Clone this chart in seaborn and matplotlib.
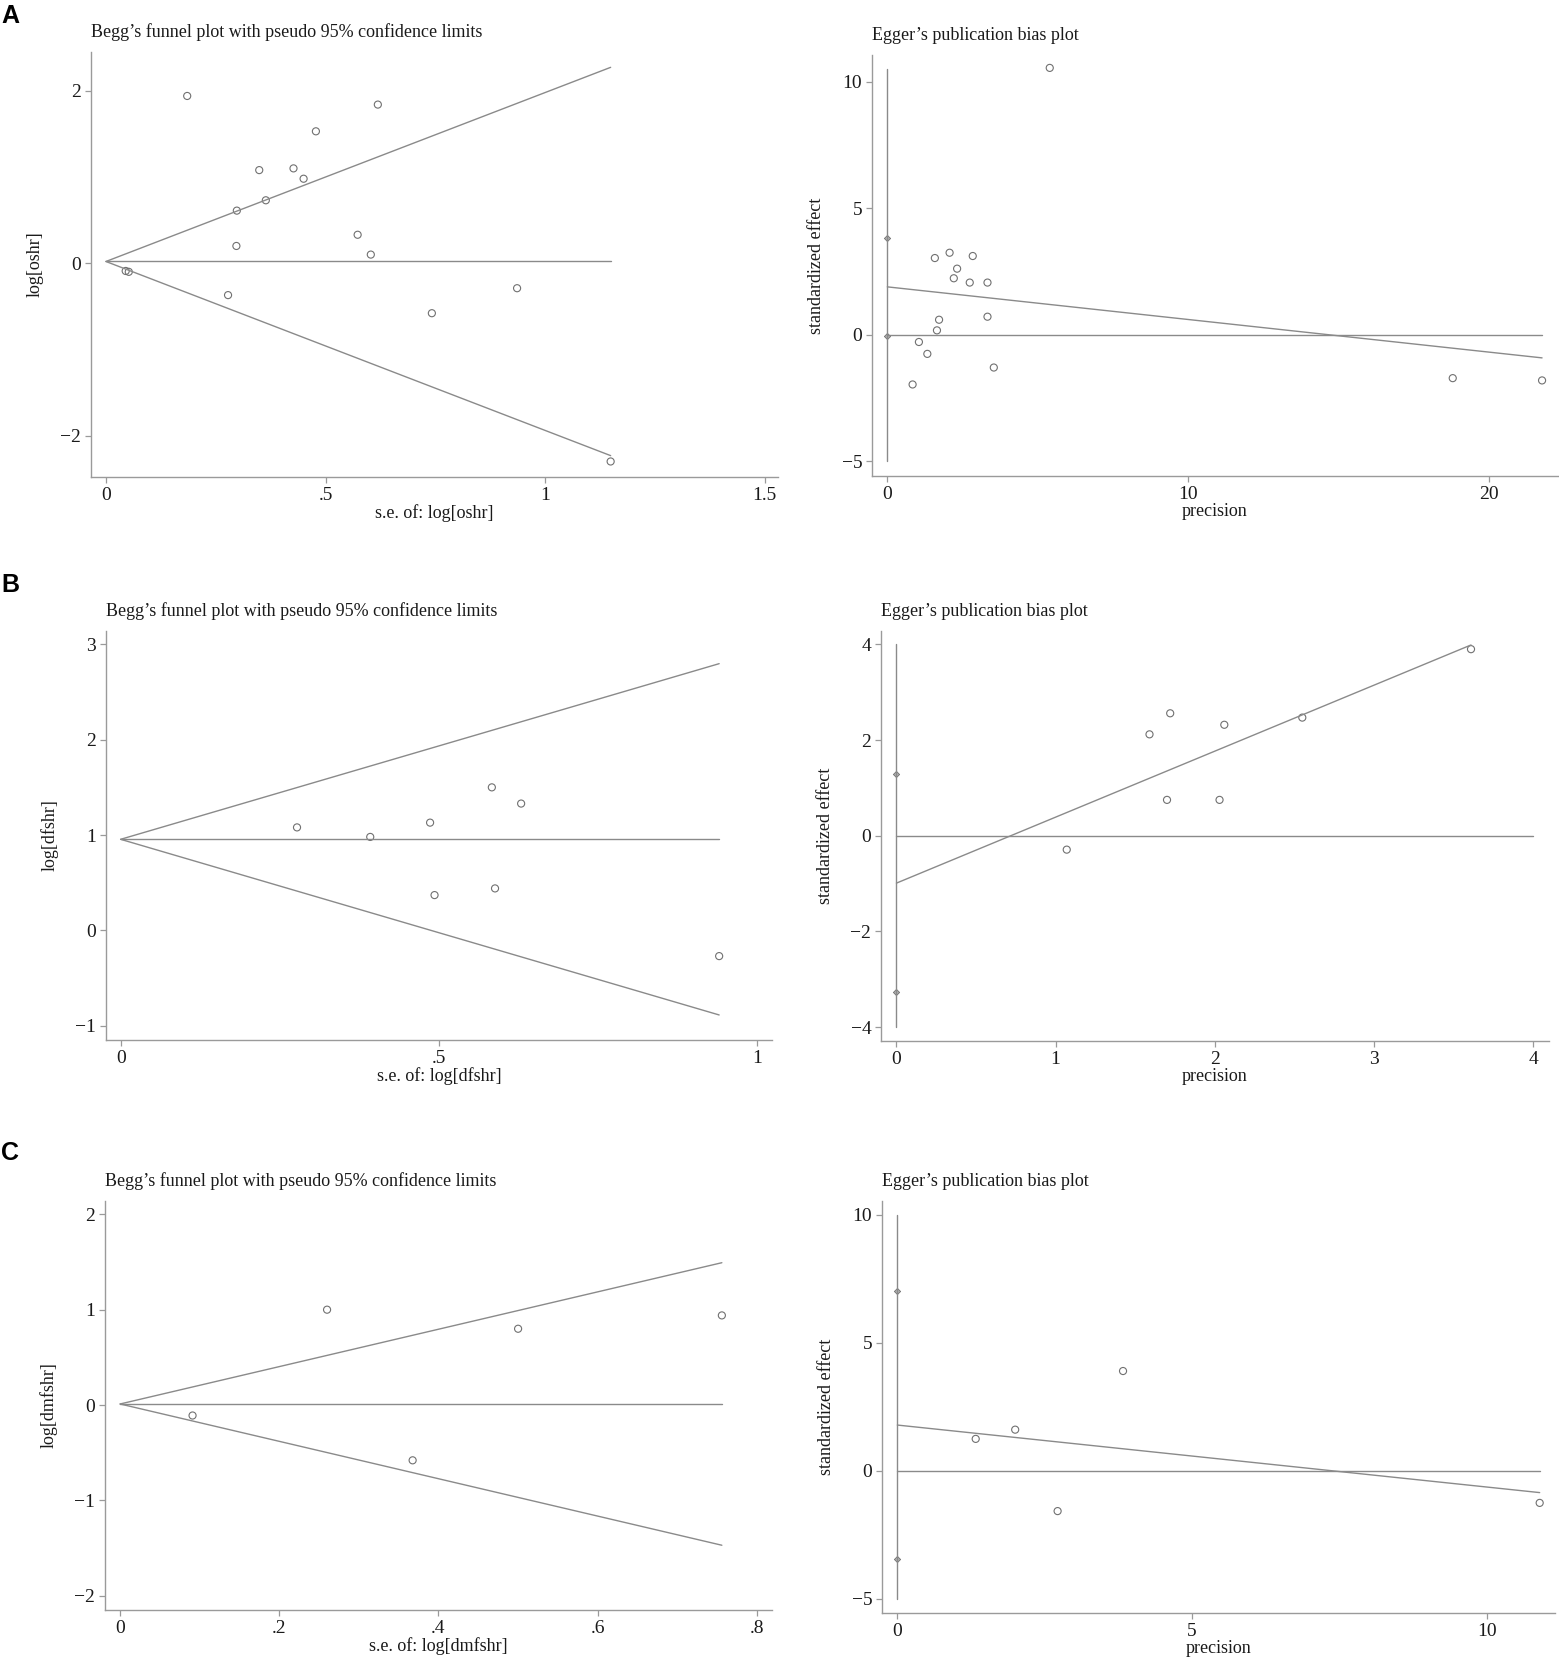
"""
Begg's funnel plots and Egger's publication bias plots (panels A-C).
"""

import matplotlib
matplotlib.use("Agg")
import matplotlib.pyplot as plt
import matplotlib.ticker as mticker
import seaborn as sns
import numpy as np

# ---- Panel A: OS HR ----
a_se = [0.185, 0.619, 0.478, 0.349, 0.427, 0.450, 0.364, 0.298, 0.297,
        0.573, 0.603, 0.045, 0.052, 0.278, 0.742, 0.936, 1.149]
a_loghr = [1.94, 1.84, 1.53, 1.08, 1.10, 0.98, 0.73, 0.61, 0.20,
           0.33, 0.10, -0.09, -0.10, -0.37, -0.58, -0.29, -2.30]
a_theta = 0.02
a_prec = [5.40, 1.58, 2.07, 2.84, 2.32, 2.21, 2.74, 3.33, 1.72,
          1.65, 3.33, 1.05, 1.33, 3.54, 0.84, 18.8, 21.77]
a_std = [10.55, 3.03, 3.24, 3.11, 2.61, 2.23, 2.06, 2.06, 0.59,
         0.17, 0.71, -0.29, -0.76, -1.30, -1.97, -1.72, -1.81]
a_b0, a_b1 = 1.89, -0.129
a_ci = [-0.07, 3.84]
a_vspan = [-5.0, 10.52]
a_zero_end = 21.77

# ---- Panel B: DFS HR ----
b_se = [0.277, 0.392, 0.486, 0.583, 0.629, 0.493, 0.588, 0.940]
b_loghr = [1.08, 0.98, 1.13, 1.50, 1.33, 0.37, 0.44, -0.27]
b_theta = 0.955
b_prec = [1.59, 1.72, 2.06, 2.55, 3.61, 1.70, 2.03, 1.07]
b_std = [2.12, 2.56, 2.32, 2.47, 3.90, 0.75, 0.75, -0.29]
b_b0, b_b1 = -0.99, 1.379
b_ci = [-3.27, 1.29]
b_vspan = [-4.0, 4.0]
b_zero_end = 4.0

# ---- Panel C: DMFS HR ----
c_se = [0.260, 0.500, 0.756, 0.091, 0.3675]
c_loghr = [1.00, 0.80, 0.94, -0.11, -0.58]
c_theta = 0.011
c_prec = [3.83, 2.00, 1.33, 2.72, 10.9]
c_std = [3.89, 1.60, 1.24, -1.58, -1.26]
c_b0, c_b1 = 1.78, -0.242
c_ci = [-3.47, 7.03]
c_vspan = [-5.0, 10.0]
c_zero_end = 10.9

Z95 = 1.96

LINE = "#8a8a8a"
SPINE = "#9a9a9a"
MARK = "#707070"
TXT = "#1a1a1a"
W, H = 1559, 1657

sns.set_theme(style="white")
plt.rcParams["font.family"] = ["Liberation Serif", "DejaVu Serif"]
plt.rcParams["axes.unicode_minus"] = True


def stata_fmt(v, pos=None):
    s = f"{v:g}"
    if s.startswith("0."):
        s = s[1:]
    elif s.startswith("-0."):
        s = "-" + s[2:]
    return s.replace("-", "\u2212")


def box(left, right, top, bottom):
    return [left / W, 1 - bottom / H, (right - left) / W, (bottom - top) / H]


def style_axes(ax, title, xlabel, ylabel, xticks, yticks, xlim, ylim):
    ax.set_xlim(*xlim)
    ax.set_ylim(*ylim)
    ax.set_xticks(xticks)
    ax.set_yticks(yticks)
    ax.xaxis.set_major_formatter(mticker.FuncFormatter(stata_fmt))
    ax.yaxis.set_major_formatter(mticker.FuncFormatter(stata_fmt))
    for side in ["top", "right"]:
        ax.spines[side].set_visible(False)
    for side in ["left", "bottom"]:
        ax.spines[side].set_color(SPINE)
        ax.spines[side].set_linewidth(1.0)
    ax.tick_params(axis="both", direction="out", length=4, width=0.9,
                   color=SPINE, labelsize=14, labelcolor=TXT, pad=3,
                   bottom=True, left=True)
    ax.set_xlabel(xlabel, fontsize=13, color=TXT, labelpad=0)
    ax.set_ylabel(ylabel, fontsize=13, color=TXT, labelpad=12)
    ax.grid(False)
    ax.annotate(title, xy=(0, 1), xycoords="axes fraction",
                xytext=(0, 20), textcoords="offset pixels",
                ha="left", va="center", fontsize=13, color=TXT)


def funnel(ax, se, loghr, theta, name, xticks, yticks, xlim, ylim):
    se_max = max(se)
    sns.lineplot(x=[0, se_max], y=[theta, theta + Z95 * se_max], ax=ax,
                 color=LINE, linewidth=1.0)
    sns.lineplot(x=[0, se_max], y=[theta, theta - Z95 * se_max], ax=ax,
                 color=LINE, linewidth=1.0)
    sns.lineplot(x=[0, se_max], y=[theta, theta], ax=ax,
                 color=LINE, linewidth=1.0)
    sns.scatterplot(x=se, y=loghr, ax=ax, marker="o", s=26,
                    facecolor="none", edgecolor=MARK, linewidth=0.8)
    style_axes(ax, "Begg\u2019s funnel plot with pseudo 95% confidence limits",
               f"s.e. of: log[{name}]", f"log[{name}]",
               xticks, yticks, xlim, ylim)


def egger(ax, prec, std, b0, b1, ci, vspan, zero_end, xticks, yticks, xlim, ylim):
    p_max = max(prec)
    sns.lineplot(x=[0, 0], y=vspan, ax=ax, color=LINE, linewidth=1.0,
                 orient="y")
    sns.lineplot(x=[0, zero_end], y=[0, 0], ax=ax, color=LINE, linewidth=1.0)
    sns.lineplot(x=[0, p_max], y=[b0, b0 + b1 * p_max], ax=ax,
                 color=LINE, linewidth=1.0)
    sns.scatterplot(x=[0, 0], y=ci, ax=ax, marker="D", s=10,
                    facecolor="#b0b0b0", edgecolor=MARK, linewidth=0.6)
    sns.scatterplot(x=prec, y=std, ax=ax, marker="o", s=26,
                    facecolor="none", edgecolor=MARK, linewidth=0.8)
    style_axes(ax, "Egger\u2019s publication bias plot", "precision",
               "standardized effect", xticks, yticks, xlim, ylim)


fig = plt.figure(figsize=(W / 100, H / 100), dpi=100)

# Panel A
ax = fig.add_axes(box(91, 778, 52, 477))
funnel(ax, a_se, a_loghr, a_theta, "oshr", [0, 0.5, 1, 1.5], [-2, 0, 2],
       (-0.034, 1.53), (-2.48, 2.45))
ax = fig.add_axes(box(872, 1558, 55, 476))
egger(ax, a_prec, a_std, a_b0, a_b1, a_ci, a_vspan, a_zero_end,
      [0, 10, 20], [-5, 0, 5, 10], (-0.51, 22.3), (-5.59, 11.06))

# Panel B
ax = fig.add_axes(box(106, 772, 631, 1040))
funnel(ax, b_se, b_loghr, b_theta, "dfshr", [0, 0.5, 1], [-1, 0, 1, 2, 3],
       (-0.023, 1.023), (-1.15, 3.14))
ax = fig.add_axes(box(881, 1549, 631, 1041))
egger(ax, b_prec, b_std, b_b0, b_b1, b_ci, b_vspan, b_zero_end,
      [0, 1, 2, 3, 4], [-4, -2, 0, 2, 4], (-0.097, 4.1), (-4.29, 4.28))

# Panel C
ax = fig.add_axes(box(105, 772, 1201, 1610))
funnel(ax, c_se, c_loghr, c_theta, "dmfshr", [0, 0.2, 0.4, 0.6, 0.8],
       [-2, -1, 0, 1, 2], (-0.019, 0.819), (-2.15, 2.14))
ax = fig.add_axes(box(882, 1555, 1201, 1613))
egger(ax, c_prec, c_std, c_b0, c_b1, c_ci, c_vspan, c_zero_end,
      [0, 5, 10], [-5, 0, 5, 10], (-0.26, 11.16), (-5.56, 10.53))

# panel letters
for letter, ypix in [("A", 16), ("B", 585), ("C", 1153)]:
    fig.text(1 / W, 1 - ypix / H, letter, ha="left", va="center",
             fontsize=18, fontweight="bold", color="black",
             family=["Liberation Sans", "DejaVu Sans"])

fig.savefig("out.png", dpi=100, facecolor="white")
